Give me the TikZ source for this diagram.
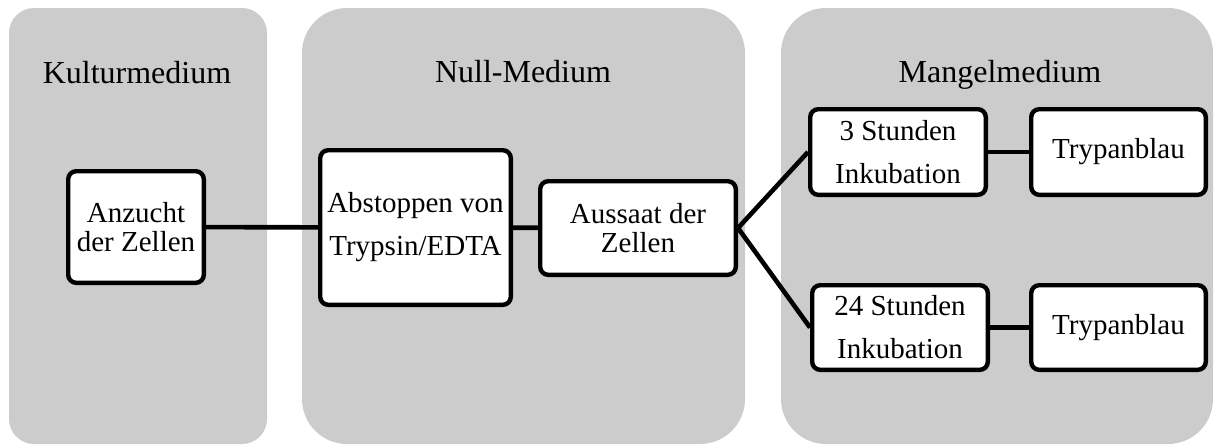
\documentclass[tikz,border=0pt]{standalone}
\usepackage{fontspec}
\setmainfont{Liberation Serif}
\usetikzlibrary{positioning}
\tikzset{
  medpanel/.style={fill=black!20,draw=none,inner sep=0pt},
  medtitle/.style={font=\fontsize{16}{19}\selectfont,inner sep=0pt,anchor=base},
  stepbox/.style={draw,line width=2.2pt,fill=white,rounded corners=4pt,align=center,inner sep=0pt,font=\fontsize{14.5}{14.5}\selectfont},
  stepboxwide/.style={stepbox,font=\fontsize{14.5}{21.5}\selectfont},
  steplink/.style={line width=2.3pt}
}

\begin{document}
\begin{tikzpicture}[x=0.5pt,y=-0.5pt]
      \useasboundingbox (0,0) rectangle (1214,445);
      % media panels
      \node[medpanel,rounded corners=12.5pt,minimum width=129pt,minimum height=218pt] (kultur) at (138,226) {};
      \node[medpanel,rounded corners=22.5pt,minimum width=221.5pt,minimum height=218pt] (null) at (523.5,226) {};
      \node[medpanel,rounded corners=22.5pt,minimum width=216pt,minimum height=218pt] (mangel) at (997,226) {};
      \node[medtitle] (kulturtitle) at (137,83) {Kulturmedium};
      \node[medtitle] (nulltitle) at (523,82) {Null-Medium};
      \node[medtitle] (mangeltitle) at (1000,82) {Mangelmedium};
      % steps
      \node[stepbox,minimum width=67.8pt,minimum height=55.8pt] (anzucht) at (136,227) {Anzucht\\der Zellen};
      \node[stepboxwide,minimum width=95.3pt,minimum height=77.3pt] (abstoppen) at (415.5,227.5) {Abstoppen von\\Trypsin/EDTA};
      \node[stepbox,minimum width=97.8pt,minimum height=46.8pt] (aussaat) at (638,228) {Aussaat der\\Zellen};
      \node[stepboxwide,minimum width=87.8pt,minimum height=42.8pt] (inkub3) at (898,152) {3 Stunden\\Inkubation};
      \node[stepbox,minimum width=87.3pt,minimum height=42.8pt] (blau3) at (1118.5,152) {Trypanblau};
      \node[stepboxwide,minimum width=87.8pt,minimum height=42.3pt] (inkub24) at (900,327.5) {24 Stunden\\Inkubation};
      \node[stepbox,minimum width=87.3pt,minimum height=42.3pt] (blau24) at (1118.5,327.5) {Trypanblau};
      \draw[steplink] (anzucht) -- (abstoppen);
      \draw[steplink] (abstoppen) -- (aussaat);
      \draw[steplink] (aussaat.east) -- (inkub3.west);
      \draw[steplink] (aussaat.east) -- (inkub24.west);
      \draw[steplink] (inkub3) -- (blau3);
      \draw[steplink] (inkub24) -- (blau24);
\end{tikzpicture}
\end{document}
